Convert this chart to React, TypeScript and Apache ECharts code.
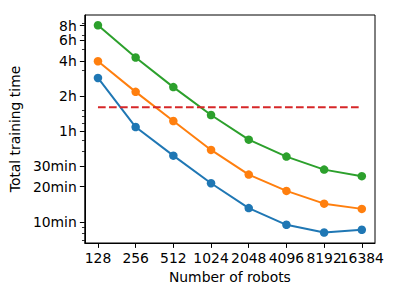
import React, { useEffect, useRef } from "react";
import * as echarts from "echarts";

const categories = [128, 256, 512, 1024, 2048, 4096, 8192, 16384];
const blueMinutes = [171, 64.9, 36.9, 21.4, 13.1, 9.42, 8.09, 8.54];
const orangeMinutes = [238, 130, 73.1, 41.3, 25.4, 18.4, 14.3, 12.9];
const greenMinutes = [484, 256, 142.8, 82.3, 50.6, 36.2, 28.0, 24.6];
const thresholdMinutes = 96;
const yTickMinutes = [10, 20, 30, 60, 120, 240, 360, 480];
const yTickLabels = ["10min", "20min", "30min", "1h", "2h", "4h", "6h", "8h"];
const yMinorMinutes = [7, 8, 9, 40, 50, 70, 80, 90, 200, 300, 400, 500];

const FONT = "DejaVu Sans";
const FS = 13.9;

export default function App() {
  const ref = useRef<HTMLDivElement>(null);
  useEffect(() => {
    if (!ref.current) return;
    const chart = echarts.init(ref.current, null, { renderer: "svg" });
    const xs = categories.map((c) => Math.log2(c));
    const mk = (vals: number[]) => vals.map((v, i) => [xs[i], Math.log10(v)]);
    const yMajor = yTickMinutes.map((m) => Math.log10(m));
    const yMinor = yMinorMinutes.map((m) => Math.log10(m));
    const yMin = 0.818;
    const yMax = 2.773;
    const xMin = 6.65;
    const xMax = 14.35;
    const xLabel = {
      show: true,
      margin: 8,
      fontFamily: FONT,
      fontSize: FS,
      color: "#000",
      hideOverlap: false,
      showMinLabel: true,
      showMaxLabel: true,
      formatter: (v: number) => String(Math.round(Math.pow(2, v))),
    };
    const lineSeries = (name: string, vals: number[], color: string) => ({
      name,
      type: "line",
      data: mk(vals),
      symbol: "circle",
      symbolSize: 8.5,
      showSymbol: true,
      lineStyle: { color, width: 2 },
      itemStyle: { color, borderWidth: 0 },
      emphasis: { disabled: true },
    });
    chart.setOption({
      animation: false,
      grid: {
        left: 84,
        top: 15,
        width: 291,
        height: 228,
        show: true,
        borderColor: "#000",
        borderWidth: 1,
        backgroundColor: "transparent",
      },
      xAxis: [
        {
          type: "value",
          min: xMin,
          max: xMax,
          name: "Number of robots",
          nameLocation: "middle",
          nameGap: 27,
          nameTextStyle: { fontFamily: FONT, fontSize: FS, color: "#000" },
          axisLine: { show: true, lineStyle: { color: "#000", width: 1 } },
          axisTick: {
            show: true,
            length: 4.9,
            lineStyle: { color: "#000", width: 1 },
            customValues: xs,
          },
          axisLabel: { ...xLabel, customValues: xs.slice(0, -1) },
          splitLine: { show: false },
        },
        {
          type: "value",
          min: xMin,
          max: xMax,
          position: "bottom",
          axisLine: { show: false },
          axisTick: { show: false },
          axisLabel: { ...xLabel, customValues: xs.slice(-1) },
          splitLine: { show: false },
        },
      ],
      yAxis: [
        {
          type: "value",
          min: yMin,
          max: yMax,
          name: "Total training time",
          nameLocation: "middle",
          nameGap: 60,
          nameTextStyle: { fontFamily: FONT, fontSize: FS, color: "#000" },
          axisLine: { show: true, lineStyle: { color: "#000", width: 1 } },
          axisTick: {
            show: true,
            length: 4.9,
            lineStyle: { color: "#000", width: 1 },
            customValues: yMajor,
          },
          axisLabel: {
            show: true,
            customValues: yMajor,
            margin: 8,
            fontFamily: FONT,
            fontSize: FS,
            color: "#000",
            showMinLabel: true,
            showMaxLabel: true,
            formatter: (v: number) => {
              const i = yMajor.findIndex((m) => Math.abs(m - v) < 1e-6);
              return i >= 0 ? yTickLabels[i] : "";
            },
          },
          splitLine: { show: false },
        },
        {
          type: "value",
          min: yMin,
          max: yMax,
          position: "left",
          axisLine: { show: false },
          axisTick: {
            show: true,
            length: 2.8,
            lineStyle: { color: "#000", width: 0.8 },
            customValues: yMinor,
          },
          axisLabel: { show: false },
          splitLine: { show: false },
        },
      ],
      series: [
        lineSeries("blue", blueMinutes, "#1f77b4"),
        lineSeries("orange", orangeMinutes, "#ff7f0e"),
        lineSeries("green", greenMinutes, "#2ca02c"),
        {
          name: "threshold",
          type: "line",
          data: [
            [xs[0], Math.log10(thresholdMinutes)],
            [xs[xs.length - 1], Math.log10(thresholdMinutes)],
          ],
          symbol: "none",
          lineStyle: { color: "#d62728", width: 2, type: [7.7, 3.3] },
          emphasis: { disabled: true },
        },
      ],
    });
    return () => chart.dispose();
  }, []);
  return (
    <div
      ref={ref}
      style={{ position: "absolute", left: 0, top: 0, width: 395, height: 302 }}
    />
  );
}
